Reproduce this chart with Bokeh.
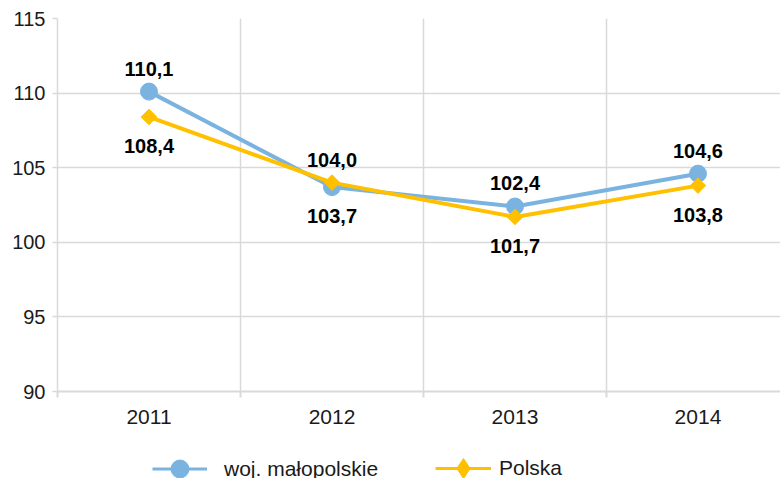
import math
from bokeh.plotting import figure
from bokeh.layouts import column
from bokeh.models import (Range1d, FixedTicker, ColumnDataSource, Legend, LegendItem)
from bokeh.core.properties import value
from bokeh.embed import file_html
from bokeh.resources import INLINE

years = ["2011", "2012", "2013", "2014"]
malopolskie = [110.1, 103.7, 102.4, 104.6]
polska = [108.4, 104.0, 101.7, 103.8]
malopolskie_labels = ["110,1", "103,7", "102,4", "104,6"]
polska_labels = ["108,4", "104,0", "101,7", "103,8"]
y_ticks = [90, 95, 100, 105, 110, 115]
series_names = ["woj. małopolskie", "Polska"]

BLUE = "#7AB3E0"
YELLOW = "#FFC000"
GRID = "#D9D9D9"
FONT = "Liberation Sans"
TXT = "#1a1a1a"

xs = list(range(len(years)))
bounds = [i - 0.5 for i in range(len(years) + 1)]

p = figure(width=780, height=431, output_backend="svg", toolbar_location=None,
           x_range=Range1d(-0.5, 3.451), y_range=Range1d(90, 115),
           min_border_left=57, min_border_top=18, min_border_right=0,
           min_border_bottom=40)
p.outline_line_color = None

# grids
p.xgrid.ticker = FixedTicker(ticks=bounds)
p.xgrid.grid_line_color = GRID
p.xgrid.grid_line_width = 1.5
p.ygrid.ticker = FixedTicker(ticks=y_ticks)
p.ygrid.grid_line_color = GRID
p.ygrid.grid_line_width = 1.5

# x axis
xa = p.xaxis[0]
xa.ticker = FixedTicker(ticks=xs, minor_ticks=bounds)
xa.major_label_overrides = {i: y for i, y in enumerate(years)}
xa.major_tick_out = 0
xa.major_tick_in = 0
xa.minor_tick_out = 6
xa.minor_tick_in = 0
xa.minor_tick_line_color = GRID
xa.minor_tick_line_width = 2
xa.axis_line_color = GRID
xa.axis_line_width = 2
xa.major_label_standoff = 12
xa.major_label_text_font = FONT
xa.major_label_text_font_size = "21px"
xa.major_label_text_color = TXT

# y axis
ya = p.yaxis[0]
ya.ticker = FixedTicker(ticks=y_ticks)
ya.major_tick_out = 5
ya.major_tick_in = 0
ya.minor_tick_out = 0
ya.minor_tick_in = 0
ya.major_tick_line_color = GRID
ya.major_tick_line_width = 1.5
ya.axis_line_color = GRID
ya.axis_line_width = 1.5
ya.major_label_standoff = 7
ya.major_label_text_font = FONT
ya.major_label_text_font_size = "20px"
ya.major_label_text_color = TXT

# series
p.line(xs, malopolskie, line_color=BLUE, line_width=4)
p.scatter(xs, malopolskie, marker="circle", size=17, fill_color=BLUE, line_color=BLUE)
p.line(xs, polska, line_color=YELLOW, line_width=4)
p.scatter(xs, polska, marker="square", angle=math.pi / 4, size=11,
          fill_color=YELLOW, line_color=YELLOW)

# data labels: the higher series is labelled above, the lower one below
ABOVE, BELOW = -23, 29
m_off = [ABOVE if m >= q else BELOW for m, q in zip(malopolskie, polska)]
q_off = [BELOW if m >= q else ABOVE for m, q in zip(malopolskie, polska)]
src_m = ColumnDataSource(dict(x=xs, y=malopolskie, t=malopolskie_labels, o=m_off))
src_q = ColumnDataSource(dict(x=xs, y=polska, t=polska_labels, o=q_off))
for src in (src_m, src_q):
    p.text(x="x", y="y", text="t", y_offset="o", source=src,
           text_font=value(FONT), text_font_size="20px", text_font_style="bold",
           text_color="#000000", text_align="center", text_baseline="middle")

# legend figure (legend-only strip under the chart; its frame is aligned to the chart's)
lg = figure(width=780, height=70, output_backend="svg", toolbar_location=None,
            x_axis_type=None, y_axis_type=None,
            x_range=Range1d(0, 1), y_range=Range1d(0, 1),
            min_border_left=0, min_border_right=0, min_border_top=0, min_border_bottom=0)
lg.outline_line_color = None
lg.grid.visible = False
off = dict(x=[-10, -9], y=[-10, -9])
r1 = lg.line(line_color=BLUE, line_width=3, **off)
r1m = lg.scatter(marker="circle", fill_color=BLUE, line_color=BLUE, **off)
r2 = lg.line(line_color=YELLOW, line_width=3, **off)
r2m = lg.scatter(marker="diamond", fill_color=YELLOW, line_color=YELLOW, **off)

common = dict(orientation="horizontal", label_text_font=FONT,
              label_text_font_size="21px", label_text_color=TXT,
              padding=0, margin=0, border_line_color=None,
              background_fill_alpha=0)
leg1 = Legend(items=[LegendItem(label=series_names[0], renderers=[r1, r1m])],
              location=(95, 10), glyph_width=55, glyph_height=45,
              label_standoff=17, **common)
leg2 = Legend(items=[LegendItem(label=series_names[1], renderers=[r2, r2m])],
              location=(378, 8), glyph_width=56, glyph_height=50,
              label_standoff=8, **common)
lg.add_layout(leg1, "center")
lg.add_layout(leg2, "center")

open("out.html", "w").write(file_html(column(p, lg, spacing=0), INLINE))
